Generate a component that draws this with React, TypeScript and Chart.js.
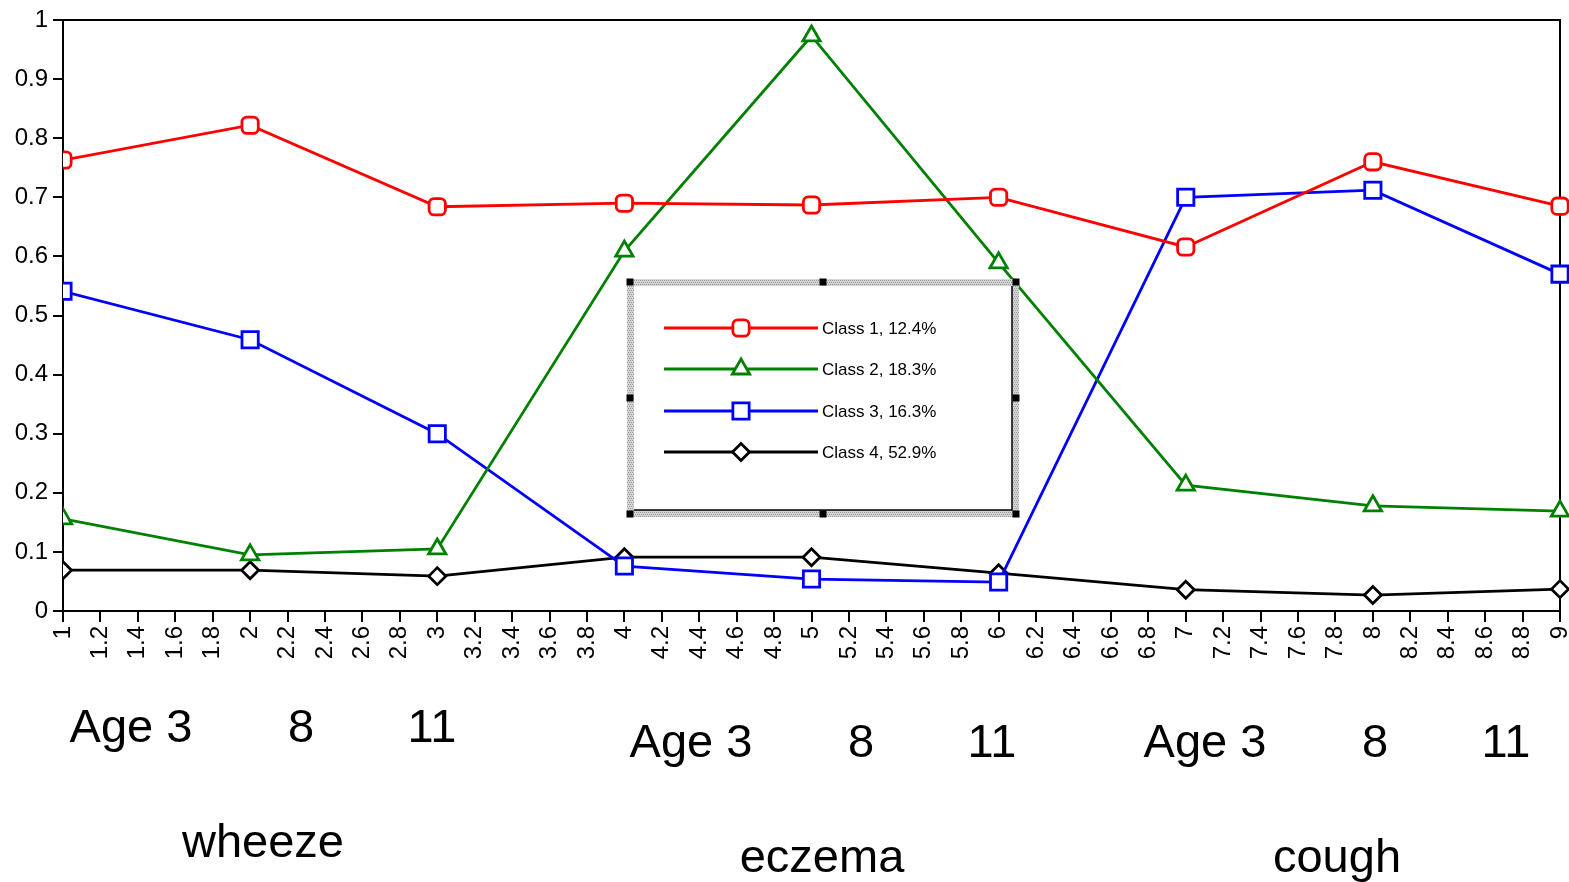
import React, { useEffect, useRef } from "react";
import { Chart, registerables } from "chart.js";
import { drawPoint } from "chart.js/helpers";

Chart.register(...registerables);

// Measurement occasions along the x axis (three symptoms x three ages)
const occasions = [1, 2, 3, 4, 5, 6, 7, 8, 9];

// Estimated probabilities for each latent class
const class1 = [0.763, 0.822, 0.684, 0.69, 0.687, 0.7, 0.616, 0.76, 0.685];
const class2 = [0.156, 0.095, 0.105, 0.609, 0.973, 0.589, 0.213, 0.178, 0.169];
const class3 = [0.541, 0.459, 0.3, 0.076, 0.054, 0.049, 0.7, 0.712, 0.57];
const class4 = [0.069, 0.069, 0.059, 0.091, 0.091, 0.064, 0.036, 0.027, 0.037];

const classLabels = ["Class 1, 12.4%", "Class 2, 18.3%", "Class 3, 16.3%", "Class 4, 52.9%"];

// Text under the axis
const ageLabels = ["Age 3", "8", "11"];
const symptomLabels = ["wheeze", "eczema", "cough"];

const FONT = '"Liberation Sans", Arial, Helvetica, sans-serif';

const styles = [
  { color: "#ff0000", pointStyle: "rectRounded", radius: 9.5 },
  { color: "#008000", pointStyle: "triangle", radius: 10 },
  { color: "#0000ff", pointStyle: "rect", radius: 11.5 },
  { color: "#000000", pointStyle: "rectRot", radius: 8.5 },
];

const series = [class1, class2, class3, class4];

const LINE_W = 2.8;

// Frame lines on top and right of the plotting area
const framePlugin = {
  id: "frame",
  beforeDatasetsDraw(chart: any) {
    const { ctx, chartArea } = chart;
    ctx.save();
    ctx.strokeStyle = "#000";
    ctx.lineWidth = 2;
    ctx.beginPath();
    ctx.moveTo(chartArea.left, chartArea.top);
    ctx.lineTo(chartArea.right, chartArea.top);
    ctx.lineTo(chartArea.right, chartArea.bottom);
    ctx.stroke();
    ctx.restore();
  },
};

// Boxed legend with hatched border and selection handles
const boxLegendPlugin = {
  id: "boxLegend",
  afterDatasetsDraw(chart: any) {
    const { ctx } = chart;
    const L = 627, T = 279, R = 1019, B = 517;
    const bw = 7;
    ctx.save();

    // hatched border
    const pc = document.createElement("canvas");
    pc.width = 4;
    pc.height = 4;
    const p = pc.getContext("2d")!;
    p.fillStyle = "#d4d4d4";
    p.fillRect(0, 0, 4, 4);
    p.fillStyle = "#9a9a9a";
    for (let i = 0; i < 4; i++) p.fillRect(i, (i * 2) % 4, 1, 1);
    const pattern = ctx.createPattern(pc, "repeat");
    ctx.fillStyle = pattern || "#bbbbbb";
    ctx.fillRect(L, T, R - L, B - T);

    // inner white box with dark right/bottom edge
    ctx.fillStyle = "#ffffff";
    ctx.fillRect(L + bw, T + bw, R - L - 2 * bw, B - T - 2 * bw);
    ctx.strokeStyle = "#000";
    ctx.lineWidth = 1.5;
    ctx.beginPath();
    ctx.moveTo(L + bw, B - bw);
    ctx.lineTo(R - bw, B - bw);
    ctx.lineTo(R - bw, T + bw);
    ctx.stroke();

    // handles
    ctx.fillStyle = "#000";
    const hx = [L + 3, (L + R) / 2, R - 3];
    const hy = [T + 3, (T + B) / 2, B - 3];
    hx.forEach((x, i) =>
      hy.forEach((y, j) => {
        if (i === 1 && j === 1) return;
        ctx.fillRect(x - 3.5, y - 3.5, 7, 7);
      })
    );

    // entries
    const rows = [328, 369, 411, 452];
    chart.data.datasets.forEach((ds: any, i: number) => {
      const y = rows[i];
      ctx.strokeStyle = ds.borderColor;
      ctx.lineWidth = LINE_W;
      ctx.beginPath();
      ctx.moveTo(664, y);
      ctx.lineTo(818, y);
      ctx.stroke();
      ctx.fillStyle = "#ffffff";
      ctx.strokeStyle = ds.borderColor;
      ctx.lineWidth = LINE_W;
      drawPoint(ctx, { pointStyle: ds.pointStyle, rotation: 0, radius: ds.pointRadius, borderWidth: LINE_W } as any, 741, y);
      ctx.fillStyle = "#000";
      ctx.font = `17px ${FONT}`;
      ctx.textAlign = "left";
      ctx.textBaseline = "middle";
      ctx.fillText(ds.label, 822, y + 1);
    });
    ctx.restore();
  },
};

// Age and symptom labels under the x axis
const groupTextPlugin = {
  id: "groupText",
  afterDraw(chart: any) {
    const { ctx } = chart;
    const groups = [
      { ages: [131, 301, 432], ageBase: 742, name: 263, nameBase: 857 },
      { ages: [691, 861, 992], ageBase: 757, name: 822, nameBase: 872 },
      { ages: [1205, 1375, 1506], ageBase: 757, name: 1337, nameBase: 872 },
    ];
    ctx.save();
    ctx.fillStyle = "#000";
    ctx.font = `47px ${FONT}`;
    ctx.textAlign = "center";
    ctx.textBaseline = "alphabetic";
    groups.forEach((g, gi) => {
      ageLabels.forEach((t, i) => ctx.fillText(t, g.ages[i], g.ageBase));
      ctx.fillText(symptomLabels[gi], g.name, g.nameBase);
    });
    ctx.restore();
  },
};

export default function App() {
  const canvasRef = useRef<HTMLCanvasElement | null>(null);

  useEffect(() => {
    const canvas = canvasRef.current;
    if (!canvas) return;
    const chart = new Chart(canvas, {
      type: "line",
      data: {
        datasets: series.map((vals, i) => ({
          label: classLabels[i],
          data: occasions.map((x, k) => ({ x, y: vals[k] })),
          borderColor: styles[i].color,
          backgroundColor: styles[i].color,
          borderWidth: LINE_W,
          pointStyle: styles[i].pointStyle as any,
          pointRadius: styles[i].radius,
          pointBorderWidth: LINE_W,
          pointBorderColor: styles[i].color,
          pointBackgroundColor: "#ffffff",
          tension: 0,
          fill: false,
          clip: { left: 0, top: 20, right: 20, bottom: 20 } as any,
        })),
      },
      options: {
        responsive: false,
        animation: false,
        devicePixelRatio: 1,
        layout: { autoPadding: false, padding: { top: 20, right: 9, left: 0, bottom: 0 } },
        plugins: {
          legend: { display: false },
          tooltip: { enabled: false },
        },
        scales: {
          x: {
            type: "linear",
            min: 1,
            max: 9,
            grid: { display: true, drawOnChartArea: false, drawTicks: true, tickLength: 11, color: "#000", lineWidth: 2 },
            border: { display: true, color: "#000", width: 2 },
            ticks: {
              stepSize: 0.2,
              autoSkip: false,
              maxRotation: 90,
              minRotation: 90,
              padding: 4,
              color: "#000",
              font: { family: FONT, size: 24 },
              callback: (v: any) => String(Math.round(Number(v) * 10) / 10),
            },
            afterFit: (scale: any) => {
              scale.height = 271;
              scale.paddingLeft = 0;
              scale.paddingRight = 0;
            },
          },
          y: {
            type: "linear",
            min: 0,
            max: 1,
            grid: { display: true, drawOnChartArea: false, drawTicks: true, tickLength: 10, color: "#000", lineWidth: 2 },
            border: { display: true, color: "#000", width: 2 },
            ticks: {
              stepSize: 0.1,
              padding: 5,
              color: "#000",
              font: { family: FONT, size: 24 },
              callback: (v: any) => String(Math.round(Number(v) * 10) / 10),
            },
            afterFit: (scale: any) => {
              scale.width = 63;
              scale.paddingTop = 0;
              scale.paddingBottom = 0;
            },
          },
        },
      },
      plugins: [framePlugin, boxLegendPlugin, groupTextPlugin],
    });
    return () => chart.destroy();
  }, []);

  return (
    <div style={{ position: "fixed", left: 0, top: 0, width: 1569, height: 882, background: "#fff" }}>
      <canvas ref={canvasRef} width={1569} height={882} style={{ display: "block" }} />
    </div>
  );
}
